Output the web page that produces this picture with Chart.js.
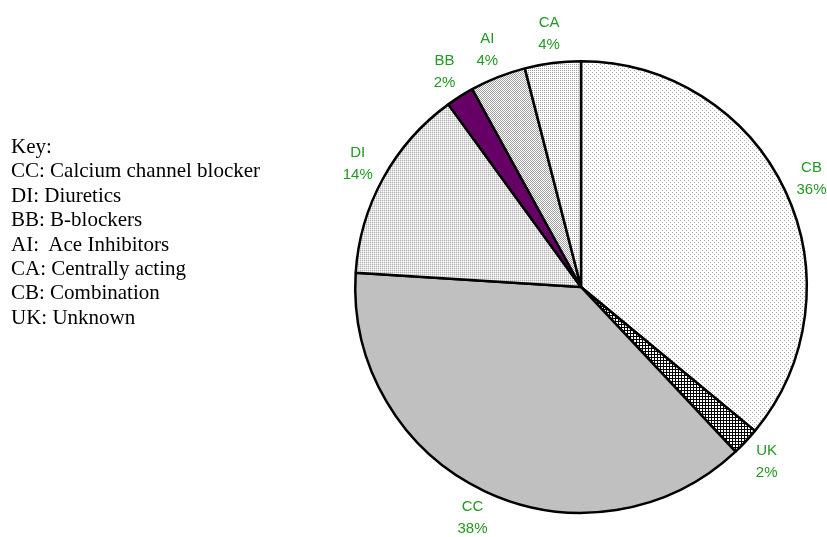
<!DOCTYPE html>
<html lang="en">
<head>
<meta charset="UTF-8">
<title>Antihypertensive drugs</title>
<script src="https://cdn.jsdelivr.net/npm/chart.js@4/dist/chart.umd.min.js"></script>
<style>
  body { margin: 0; background: #fff; }
  #wrap { position: relative; width: 827px; height: 537px; }
  #key {
    position: absolute; left: 11px; top: 134px;
    font-family: "Liberation Serif", "Times New Roman", serif;
    font-size: 21px; line-height: 24.4px; color: #000;
    white-space: pre;
  }
</style>
</head>
<body>
<div id="wrap">
  <canvas id="myChart" width="827" height="537"></canvas>
  <div id="key"></div>
</div>
<script>
    // slices clockwise from 12 o'clock
    var labels = ['CB', 'UK', 'CC', 'DI', 'BB', 'AI', 'CA'];
    var percents = [36, 2, 38, 14, 2, 4, 4];
    var keyLines = ['Key:', 'CC: Calcium channel blocker', 'DI: Diuretics', 'BB: B-blockers',
        'AI:  Ace Inhibitors', 'CA: Centrally acting', 'CB: Combination', 'UK: Unknown'];

    document.getElementById('key').textContent = keyLines.join('\n');

    // small tiles to mimic the old-style fill patterns
    function tile(size, bg, pixels) {
        var c = document.createElement('canvas');
        c.width = size; c.height = size;
        var g = c.getContext('2d');
        g.fillStyle = bg;
        g.fillRect(0, 0, size, size);
        pixels.forEach(function (p) {
            g.fillStyle = p[2];
            g.fillRect(p[0], p[1], 1, 1);
        });
        return g.createPattern(c, 'repeat');
    }

    var ctx = document.getElementById('myChart').getContext('2d');

    var fills = [
        tile(4, '#ffffff', [[0, 0, '#a8a8a8'], [2, 2, '#a8a8a8']]),                       // CB
        tile(3, '#000000', [[1, 1, '#ffffff'], [2, 1, '#ffffff'], [1, 2, '#ffffff'], [2, 2, '#ffffff']]), // UK
        '#c0c0c0',                                                                        // CC
        tile(2, '#ffffff', [[0, 0, '#b4b4b4'], [1, 0, '#e0e0e0'], [0, 1, '#e0e0e0']]),  // DI
        '#660066',                                                                        // BB
        tile(2, '#ffffff', [[0, 0, '#a0a0a0'], [1, 1, '#a0a0a0']]),                       // AI
        tile(2, '#ffffff', [[0, 0, '#a0a0a0']])                                           // CA
    ];

    var outsideLabels = {
        id: 'outsideLabels',
        afterDraw: function (chart) {
            var c = chart.ctx;
            var meta = chart.getDatasetMeta(0);
            c.save();
            c.font = '15px "Liberation Sans", Arial, sans-serif';
            c.fillStyle = '#229922';
            c.textAlign = 'center';
            c.textBaseline = 'middle';
            meta.data.forEach(function (arc, i) {
                var p = arc.getProps(['x', 'y', 'startAngle', 'endAngle', 'outerRadius'], true);
                var mid = (p.startAngle + p.endAngle) / 2;
                var r = p.outerRadius + 29;
                var x = p.x + Math.cos(mid) * r;
                var y = p.y + Math.sin(mid) * r;
                c.fillText(labels[i], x, y - 11);
                c.fillText(percents[i] + '%', x, y + 11);
            });
            c.restore();
        }
    };

    new Chart(ctx, {
        type: 'pie',
        data: {
            labels: labels,
            datasets: [{
                data: percents,
                backgroundColor: fills,
                borderColor: '#000000',
                borderWidth: 2.5
            }]
        },
        options: {
            responsive: false,
            animation: false,
            layout: { padding: { left: 354, top: 60, right: 19, bottom: 23 } },
            plugins: {
                legend: { display: false },
                tooltip: { enabled: false }
            }
        },
        plugins: [outsideLabels]
    });
</script>
</body>
</html>
